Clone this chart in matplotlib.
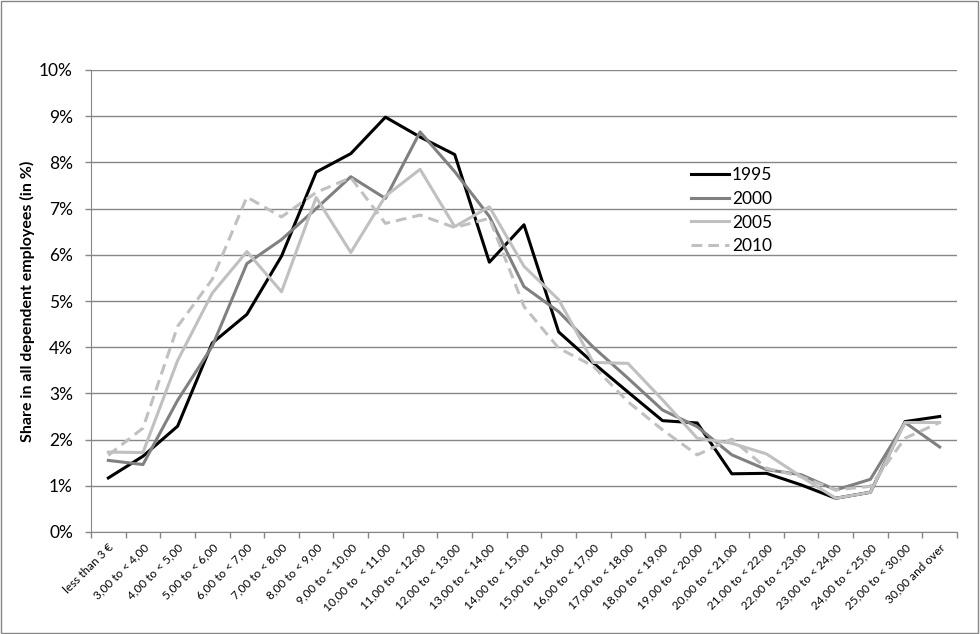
import matplotlib
matplotlib.use("Agg")
import matplotlib.pyplot as plt
from matplotlib.patches import Rectangle
from matplotlib.ticker import FixedLocator, PercentFormatter
import numpy as np

plt.rcParams['font.family'] = ['Lato', 'DejaVu Sans']

categories = ["less than 3 €", "3,00 to < 4,00", "4,00 to < 5,00", "5,00 to < 6,00",
              "6,00 to < 7,00", "7,00 to < 8,00", "8,00 to < 9,00", "9,00 to < 10,00",
              "10,00 to  < 11,00", "11,00 to < 12,00", "12,00 to < 13,00", "13,00 to < 14,00",
              "14,00 to < 15,00", "15,00 to < 16,00", "16,00 to < 17,00", "17,00 to < 18,00",
              "18,00 to < 19,00", "19,00 to < 20,00", "20,00 to < 21,00", "21,00 to < 22,00",
              "22,00 to < 23,00", "23,00 to < 24,00", "24,00 to < 25,00", "25,00 to < 30,00",
              "30,00 and over"]

share_1995 = [1.17, 1.64, 2.29, 4.09, 4.71, 5.97, 7.79, 8.19, 8.98, 8.55, 8.17, 5.84, 6.65,
              4.33, 3.66, 3.03, 2.41, 2.36, 1.26, 1.27, 1.02, 0.73, 0.86, 2.39, 2.50]
share_2000 = [1.55, 1.46, 2.85, 4.02, 5.81, 6.33, 7.00, 7.69, 7.22, 8.66, 7.80, 6.83, 5.31,
              4.77, 4.00, 3.33, 2.64, 2.28, 1.67, 1.35, 1.24, 0.91, 1.14, 2.37, 1.84]
share_2005 = [1.73, 1.72, 3.71, 5.17, 6.07, 5.20, 7.24, 6.05, 7.27, 7.85, 6.61, 7.04, 5.75,
              5.03, 3.67, 3.65, 2.86, 2.03, 1.92, 1.69, 1.20, 0.73, 0.86, 2.37, 2.37]
share_2010 = [1.66, 2.25, 4.45, 5.47, 7.25, 6.82, 7.35, 7.67, 6.68, 6.86, 6.59, 6.79, 4.88,
              3.98, 3.59, 2.82, 2.21, 1.67, 2.01, 1.38, 1.20, 0.91, 0.99, 2.03, 2.37]

fig = plt.figure(figsize=(9.8, 6.34), dpi=100)
ax = fig.add_axes([91/980, 1 - 532/634, 866/980, 462/634])

x = np.arange(len(categories))
ax.plot(x, share_1995, color='black', lw=2.2, label='1995')
ax.plot(x, share_2000, color='#808080', lw=2.2, label='2000')
ax.plot(x, share_2005, color='#c0c0c0', lw=2.2, label='2005')
ax.plot(x, share_2010, color='#c0c0c0', lw=2.2, ls=(0, (3.5, 2)), label='2010')

ax.set_xlim(-0.5, len(categories) - 0.5)
ax.set_ylim(0, 10)
ax.set_yticks(np.arange(0, 11, 1))
ax.yaxis.set_major_formatter(PercentFormatter(decimals=0))
ax.grid(axis='y', color='#868686', lw=1)
ax.set_axisbelow(True)

# category labels at centres, tick marks at the boundaries
ax.set_xticks(x)
ax.set_xticklabels(categories, rotation=45, ha='right', rotation_mode='anchor', fontsize=8.5)
ax.xaxis.set_minor_locator(FixedLocator(np.arange(-0.5, len(categories), 1)))
ax.tick_params(axis='x', which='major', length=0, pad=7)
ax.tick_params(axis='x', which='minor', length=4, color='#868686', width=1)
ax.tick_params(axis='y', length=4, color='#868686', width=1, labelsize=12.5, pad=9)

for side in ['top', 'right']:
    ax.spines[side].set_visible(False)
for side in ['left', 'bottom']:
    ax.spines[side].set_color('#868686')

ax.set_ylabel('Share in all dependent employees (in %)', fontsize=11.5, fontweight='bold')
ax.yaxis.set_label_coords(-0.065, 0.5)

ax.legend(loc='upper left', bbox_to_anchor=(684/980, 1 - 160/634), bbox_transform=fig.transFigure,
          frameon=False, fontsize=12.5, handlelength=2.2, handletextpad=0.15, labelspacing=0.45,
          borderaxespad=0)

fig.patches.append(Rectangle((0.001, 0.001), 0.997, 0.997, transform=fig.transFigure,
                             fill=False, edgecolor='#868686', lw=1))

fig.savefig('out.png', dpi=100)
